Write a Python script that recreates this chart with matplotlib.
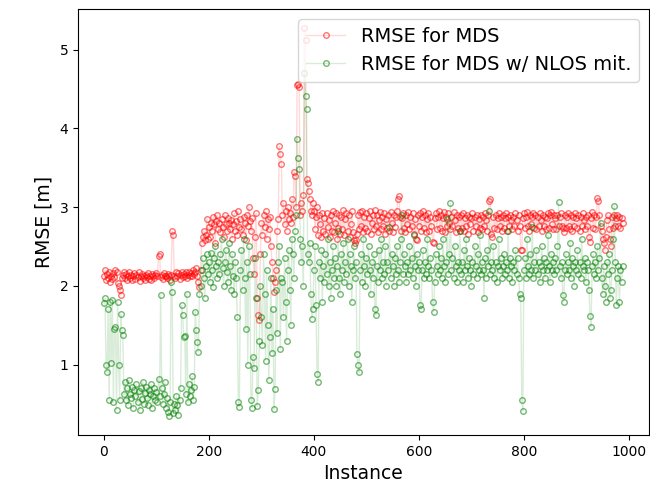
import numpy as np
import matplotlib
matplotlib.use("Agg")
import matplotlib.pyplot as plt

instances = np.arange(0, 990, 2)

rmse_mds = [
    2.12, 2.2, 2.08, 2.15, 2.1, 2.18, 2.05, 2.13, 2.09, 2.16,
    2.11, 2.2, 2.18, 2.04, 2.0, 1.95, 1.88, 2.1, 2.14, 2.17,
    2.1, 2.15, 2.08, 2.12, 2.18, 2.1, 2.14, 2.07, 2.13, 2.16,
    2.09, 2.14, 2.11, 2.17, 2.06, 2.12, 2.15, 2.1, 2.13, 2.08,
    2.14, 2.11, 2.16, 2.09, 2.13, 2.07, 2.15, 2.12, 2.1, 2.14,
    2.16, 2.12, 2.38, 2.41, 2.11, 2.14, 2.09, 2.16, 2.12, 2.13,
    2.1, 2.15, 2.12, 2.08, 2.14, 2.69, 2.65, 2.13, 2.1, 2.17,
    2.12, 2.16, 2.09, 2.14, 2.18, 2.11, 2.15, 2.13, 2.17, 2.1,
    2.14, 2.18, 2.12, 2.16, 2.13, 2.2, 2.15, 2.17, 2.22, 2.12,
    2.05, 1.98, 2.2, 2.55, 2.62, 2.7, 2.58, 2.65, 2.85, 2.6,
    2.75, 2.62, 2.8, 2.7, 2.88, 2.78, 2.55, 2.82, 2.9, 2.72,
    2.8, 2.68, 2.85, 2.75, 2.62, 2.9, 2.78, 2.7, 2.86, 2.8,
    2.72, 2.84, 2.6, 2.78, 2.92, 2.7, 2.82, 2.65, 2.95, 2.75,
    2.85, 2.72, 2.65, 2.88, 2.8, 2.58, 2.9, 2.76, 3.0, 2.82,
    2.7, 2.86, 2.35, 2.15, 2.62, 2.92, 1.85, 1.63, 1.57, 2.4,
    2.8, 2.65, 2.9, 2.75, 2.95, 2.6, 2.85, 2.72, 2.88, 2.5,
    2.3, 2.1, 1.92, 2.05, 2.2, 2.7, 2.85, 3.77, 3.67, 3.55,
    2.9, 3.05, 2.78, 2.95, 2.7, 3.0, 2.85, 2.92, 2.8, 3.1,
    2.88, 3.45, 3.4, 3.0, 4.55, 4.56, 4.52, 2.9, 3.05, 2.95,
    3.15, 5.27, 5.12, 3.36, 3.3, 3.2, 3.1, 2.95, 2.9, 3.05,
    2.95, 2.72, 2.88, 3.0, 2.65, 2.9, 2.78, 2.62, 2.93, 2.7,
    2.86, 2.66, 2.92, 2.75, 2.84, 2.62, 2.9, 2.7, 2.95, 2.68,
    2.8, 2.93, 2.6, 2.74, 2.9, 2.66, 2.88, 2.72, 2.96, 2.64,
    2.85, 2.92, 2.7, 2.9, 2.62, 2.78, 2.95, 2.68, 2.58, 2.55,
    2.58, 2.66, 2.9, 2.72, 2.94, 2.76, 2.95, 2.68, 2.88, 2.74,
    2.92, 2.7, 2.86, 2.95, 2.66, 2.8, 2.9, 2.72, 2.96, 2.76,
    2.9, 2.68, 2.84, 2.94, 2.72, 2.88, 2.76, 2.92, 2.66, 2.85,
    2.74, 2.9, 2.7, 2.94, 2.8, 2.68, 2.9, 2.75, 2.88, 2.95,
    3.1, 3.14, 2.88, 2.7, 2.86, 2.93, 2.74, 2.68, 2.9, 2.78,
    2.94, 2.72, 2.88, 2.76, 2.92, 2.66, 2.85, 2.6, 2.58, 2.9,
    2.76, 2.92, 2.7, 2.88, 2.95, 2.74, 2.9, 2.68, 2.85, 2.93,
    2.7, 2.88, 2.76, 2.56, 2.55, 2.86, 2.92, 2.72, 2.88, 2.95,
    2.74, 2.9, 2.7, 2.86, 2.94, 2.68, 2.88, 2.76, 2.92, 2.8,
    2.72, 2.88, 2.76, 2.94, 2.84, 2.68, 2.9, 2.74, 2.88, 2.7,
    2.9, 2.74, 2.92, 2.7, 2.86, 2.76, 2.9, 2.66, 2.88, 2.78,
    2.86, 2.92, 2.7, 2.88, 2.76, 2.9, 2.68, 2.85, 2.74, 2.9,
    2.72, 2.88, 2.76, 2.92, 2.84, 2.7, 2.9, 3.08, 3.1, 2.66,
    2.62, 2.88, 2.74, 2.9, 2.72, 2.86, 2.92, 2.76, 2.88, 2.7,
    2.9, 2.74, 2.86, 2.92, 2.7, 2.88, 2.76, 2.9, 2.84, 2.72,
    2.88, 2.76, 2.92, 2.84, 2.7, 2.9, 2.76, 2.46, 2.45, 2.86,
    2.92, 2.74, 2.88, 2.94, 2.76, 2.7, 2.9, 2.78, 2.88, 2.93,
    2.74, 2.9, 2.72, 2.88, 2.76, 2.92, 2.84, 2.7, 2.9, 2.76,
    2.88, 2.72, 2.86, 2.92, 2.74, 2.9, 2.94, 2.78, 2.72, 2.9,
    2.86, 2.72, 2.9, 2.76, 2.88, 2.92, 2.76, 2.74, 2.68, 2.9,
    2.74, 2.88, 2.92, 2.76, 2.72, 2.9, 2.7, 2.88, 2.76, 2.92,
    2.86, 2.74, 2.9, 2.7, 2.88, 2.76, 2.92, 2.84, 2.72, 2.88,
    2.76, 2.9, 2.62, 2.56, 2.86, 2.94, 2.74, 2.9, 2.72, 2.88,
    3.12, 3.08, 2.9, 2.76, 2.7, 2.6, 2.55, 2.45, 2.62, 2.84,
    2.9, 2.72, 2.6, 2.5, 2.88, 2.74, 2.9, 2.76, 2.86, 2.9,
    2.76, 2.88, 2.74, 2.86, 2.8,
]

rmse_mds_nlos = [
    1.78, 1.84, 1.0, 0.9, 1.7, 0.55, 1.8, 1.02, 1.82, 0.52,
    1.45, 1.48, 0.42, 1.8, 1.0, 0.55, 1.64, 1.44, 1.37, 0.62,
    0.78, 0.55, 0.7, 0.48, 0.8, 0.62, 0.58, 0.72, 0.45, 0.68,
    0.6, 0.75, 0.52, 0.66, 0.42, 0.7, 0.56, 0.78, 0.5, 0.64,
    0.72, 0.58, 0.48, 0.68, 0.62, 0.75, 0.45, 0.6, 0.7, 0.55,
    0.65, 0.52, 0.82, 0.6, 1.88, 0.7, 0.5, 0.62, 0.78, 0.45,
    0.58, 0.4, 0.35, 0.52, 2.05, 1.92, 0.38, 0.5, 0.42, 0.6,
    0.48, 0.36, 0.55, 0.7, 1.75, 1.63, 1.35, 1.36, 0.62, 1.9,
    0.52, 0.75, 0.6, 0.68, 0.85, 0.55, 0.72, 1.67, 1.44, 1.29,
    1.16, 1.9, 2.0, 2.2, 2.35, 2.1, 1.85, 2.25, 2.4, 2.15,
    2.3, 2.05, 2.42, 2.2, 1.98, 2.35, 2.5, 2.25, 2.1, 2.3,
    2.15, 2.4, 2.6, 2.22, 2.0, 2.3, 2.45, 2.18, 2.05, 2.55,
    2.25, 1.95, 2.4, 2.12, 1.9, 2.3, 2.1, 1.6, 0.52, 0.46,
    2.2, 2.45, 1.95, 2.6, 2.1, 1.45, 2.3, 1.0, 2.5, 2.15,
    0.55, 0.45, 1.1, 0.95, 2.35, 1.85, 0.47, 0.67, 1.3, 2.0,
    1.6, 1.25, 2.4, 1.9, 1.05, 2.2, 1.5, 0.8, 1.35, 2.1,
    1.15, 1.7, 0.43, 0.69, 1.95, 1.4, 2.3, 2.5, 1.2, 2.1,
    2.05, 1.6, 2.35, 1.8, 1.3, 2.2, 2.45, 1.95, 1.5, 2.6,
    2.4, 2.1, 2.7, 2.9, 3.87, 3.62, 3.49, 2.6, 2.3, 2.5,
    2.0, 4.70, 4.41, 4.25, 2.4, 2.3, 2.55, 1.9, 1.58, 1.7,
    2.2, 2.5, 1.75, 0.88, 0.78, 2.3, 2.1, 2.45, 1.8, 2.25,
    2.05, 2.4, 2.15, 2.6, 2.0, 2.3, 1.85, 2.2, 2.5, 2.1,
    2.35, 2.0, 2.25, 2.7, 2.1, 1.9, 2.4, 2.2, 2.55, 2.05,
    2.3, 2.15, 2.6, 2.0, 2.4, 2.25, 1.8, 2.2, 2.5, 2.1,
    2.3, 1.13, 1.0, 0.9, 2.2, 2.4, 2.05, 2.6, 2.25, 2.0,
    2.35, 2.15, 2.5, 2.2, 1.9, 2.3, 2.1, 2.4, 1.71, 1.63,
    2.25, 2.05, 2.45, 2.2, 2.6, 2.1, 2.3, 2.15, 2.5, 2.0,
    2.3, 2.2, 2.75, 2.1, 2.4, 2.25, 2.0, 2.35, 2.15, 2.5,
    2.2, 2.05, 2.3, 2.6, 2.9, 2.15, 2.4, 2.25, 2.05, 2.3,
    2.15, 2.5, 2.2, 2.35, 2.1, 2.65, 2.25, 2.0, 2.4, 2.2,
    2.3, 1.75, 1.7, 2.2, 2.45, 2.1, 2.3, 2.15, 2.6, 2.25,
    2.1, 2.35, 2.2, 1.8, 1.67, 2.05, 2.4, 2.25, 2.15, 2.5,
    2.2, 2.35, 2.1, 2.6, 2.25, 2.05, 2.3, 2.85, 2.15, 2.4,
    3.05, 2.2, 2.35, 2.1, 2.5, 2.25, 2.05, 2.3, 2.2, 2.7,
    2.15, 2.3, 2.05, 2.45, 2.2, 2.6, 2.25, 2.1, 2.35, 2.2,
    2.0, 2.3, 2.15, 2.5, 2.25, 2.1, 2.4, 2.2, 2.65, 2.15,
    2.3, 2.2, 1.85, 2.35, 2.1, 2.45, 2.25, 2.95, 2.15, 2.3,
    2.2, 2.5, 2.1, 2.3, 2.05, 2.25, 2.6, 2.2, 2.35, 2.1,
    2.25, 2.4, 2.15, 2.3, 2.2, 2.7, 2.1, 2.35, 2.25, 2.05,
    2.3, 2.2, 2.45, 2.15, 2.35, 2.1, 1.9, 1.85, 0.55, 0.41,
    2.2, 2.35, 2.1, 2.6, 2.25, 2.15, 2.4, 2.2, 2.75, 2.1,
    2.3, 2.2, 2.45, 2.15, 2.3, 2.05, 2.25, 2.5, 2.2, 2.35,
    2.1, 2.3, 2.2, 2.65, 2.25, 2.05, 2.4, 2.2, 2.3, 2.15,
    2.35, 2.2, 2.5, 3.06, 2.25, 2.1, 2.3, 1.88, 1.8, 2.2,
    2.4, 2.15, 2.3, 2.2, 2.55, 2.1, 2.35, 2.25, 2.0, 2.3,
    2.2, 2.45, 2.15, 2.3, 2.1, 2.6, 2.25, 2.2, 2.35, 2.05,
    2.3, 2.2, 1.95, 1.62, 1.48, 2.25, 2.4, 2.15, 2.3, 2.1,
    2.5, 2.2, 2.35, 2.8, 2.1, 1.9, 2.25, 2.0, 1.8, 2.3,
    2.15, 2.4, 1.85, 1.95, 2.2, 2.6, 3.02, 2.3, 1.76, 2.1,
    2.25, 1.8, 2.2, 2.05, 2.25,
]

labels = ["RMSE for MDS", "RMSE for MDS w/ NLOS mit."]

fig = plt.figure(figsize=(6.5, 4.93), dpi=100)
ax = fig.add_axes([0.12, 0.1176, 0.8777, 0.864])

ax.plot(instances, rmse_mds, marker="o", linestyle="-", linewidth=1.0,
        color=(1, 0, 0, 0.15), markersize=4, markerfacecolor="none",
        markeredgecolor=(1, 0, 0, 0.55), markeredgewidth=1.0, label=labels[0])
ax.plot(instances, rmse_mds_nlos, marker="o", linestyle="-", linewidth=1.0,
        color=(0, 0.5, 0, 0.15), markersize=4, markerfacecolor="none",
        markeredgecolor=(0, 0.5, 0, 0.55), markeredgewidth=1.0, label=labels[1])

ax.set_xlabel("Instance", fontsize=13.5)
ax.set_ylabel("RMSE [m]", fontsize=13.5)
ax.legend(loc="upper right", fontsize=14)

fig.savefig("out.png", dpi=100)
